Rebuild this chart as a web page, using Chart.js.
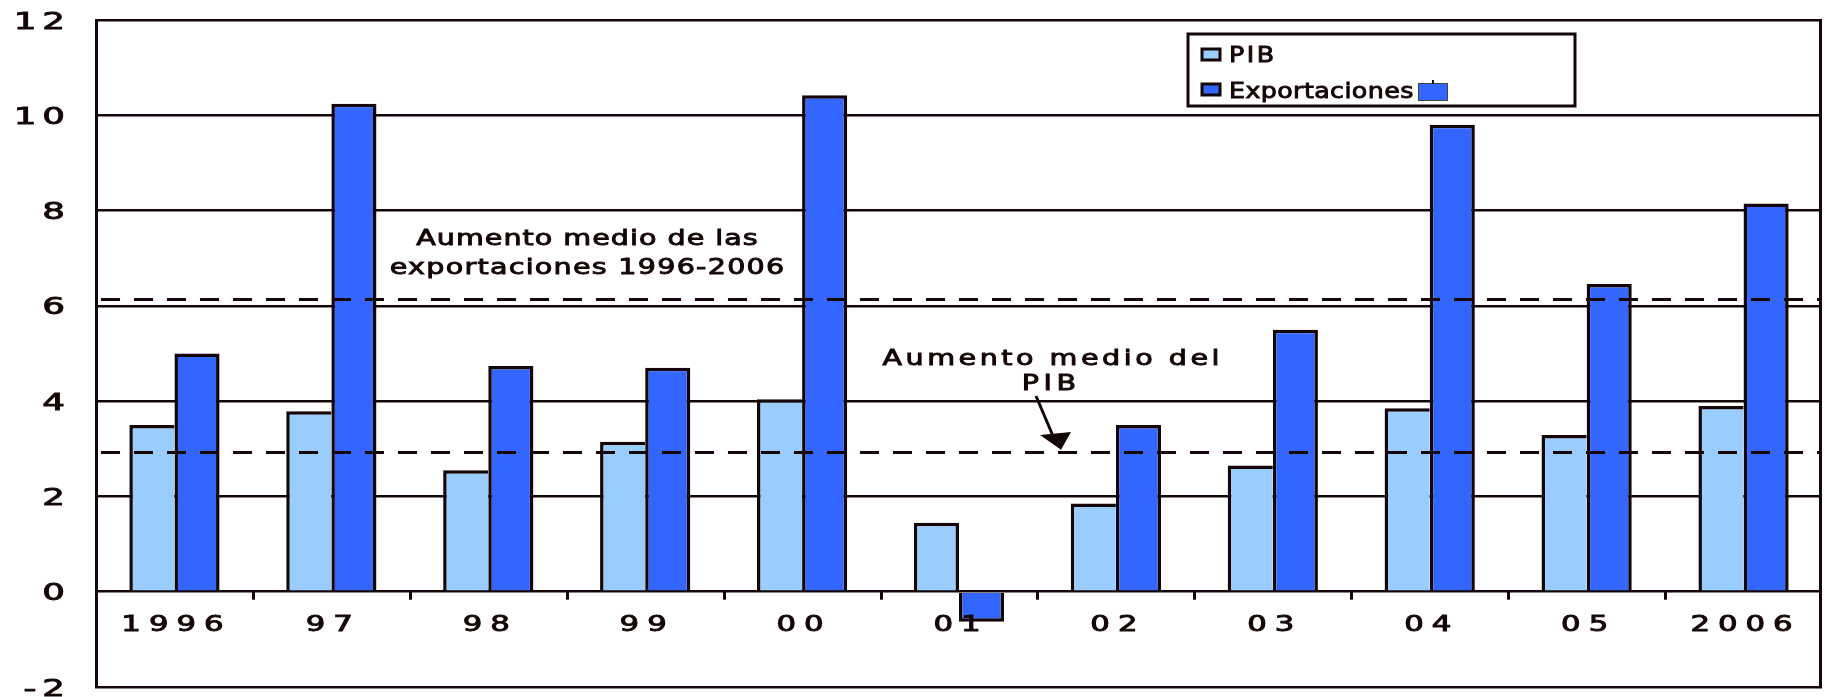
<!DOCTYPE html>
<html>
<head>
<meta charset="utf-8">
<script src="https://cdn.jsdelivr.net/npm/chart.js@4/dist/chart.umd.min.js"></script>
<style>
html,body{margin:0;padding:0;background:#ffffff;}
canvas{display:block;}
</style>
</head>
<body>
<canvas id="c" width="1825" height="697"></canvas>
<script>
// ---- data ----
const categories = ['1996', '97', '98', '99', '00', '01', '02', '03', '04', '05', '2006'];
const pib = [3.50, 3.79, 2.55, 3.15, 4.04, 1.45, 1.85, 2.65, 3.85, 3.29, 3.90];
const exportaciones = [5.00, 10.24, 4.74, 4.70, 10.42, -0.63, 3.50, 5.50, 9.80, 6.46, 8.15];
const seriesNames = ['PIB', 'Exportaciones'];
const yMin = -2, yMax = 12, yStep = 2;
const avgExportaciones = 6.14;
const avgPib = 2.94;
const noteExport = ['Aumento medio de las', 'exportaciones 1996-2006'];
const notePib = ['Aumento medio del', 'PIB'];

// ---- style ----
const INK = '#140606';
const LIGHT = '#99CCFF';
const DARK = '#3366FF';
const FAMILY = '"DejaVu Sans", Verdana, sans-serif';
const BW = 3.5;

function drawText(ctx, str, x, y, size, sx, spacing, align) {
  ctx.save();
  ctx.font = size + 'px ' + FAMILY;
  ctx.letterSpacing = '0px';
  const w0 = ctx.measureText(str).width;
  const ls = spacing / sx;
  const total = (w0 + ls * (str.length - 1)) * sx;
  let left = x;
  if (align === 'center') left = x - total / 2;
  else if (align === 'right') left = x - total;
  ctx.translate(left, y);
  ctx.scale(sx, 1);
  ctx.letterSpacing = ls + 'px';
  ctx.textAlign = 'left';
  ctx.textBaseline = 'alphabetic';
  ctx.fillStyle = INK;
  ctx.strokeStyle = INK;
  ctx.lineWidth = 0.9;
  ctx.lineJoin = 'miter';
  ctx.fillText(str, 0, 0);
  ctx.strokeText(str, 0, 0);
  ctx.restore();
}

const overlay = {
  id: 'overlay',
  beforeDatasetsDraw(chart) {
    const {ctx, scales: {y}} = chart;
    // y tick labels from the scale's own ticks
    y.ticks.forEach(t => {
      drawText(ctx, String(t.value), 65, y.getPixelForValue(t.value) + 8.5, 23, 1.55, 6, 'right');
    });
  },
  afterDatasetsDraw(chart) {
    const {ctx, chartArea: a, scales: {x, y}} = chart;
    ctx.save();
    // right border
    ctx.strokeStyle = INK;
    ctx.lineWidth = 3;
    ctx.beginPath();
    ctx.moveTo(a.right - 1.5, a.top - 1);
    ctx.lineTo(a.right - 1.5, a.bottom + 1);
    ctx.stroke();

    // category boundary ticks below zero line
    const y0 = y.getPixelForValue(0);
    ctx.fillStyle = INK;
    for (let i = 1; i < categories.length; i++) {
      const px = (x.getPixelForValue(i - 1) + x.getPixelForValue(i)) / 2;
      ctx.fillRect(Math.round(px) - 1, y0, 3, 8);
    }

    // dashed average lines
    ctx.setLineDash([19, 14]);
    ctx.lineWidth = 3;
    ctx.strokeStyle = INK;
    [avgExportaciones, avgPib].forEach(v => {
      const py = Math.round(y.getPixelForValue(v)) + 0.5;
      ctx.beginPath();
      ctx.moveTo(a.left + 5, py);
      ctx.lineTo(a.right - 3, py);
      ctx.stroke();
    });
    ctx.setLineDash([]);

    // x category labels (inside plot, just under zero line)
    categories.forEach((c, i) => {
      drawText(ctx, c, x.getPixelForValue(i) - 2, y0 + 39, 20.5, 1.5, 8, 'center');
    });

    // annotations
    drawText(ctx, noteExport[0], 587, 245, 22, 1.3, 1.0, 'center');
    drawText(ctx, noteExport[1], 587, 274, 22, 1.3, 1.25, 'center');
    drawText(ctx, notePib[0], 1051, 365, 22, 1.3, 3.5, 'center');
    drawText(ctx, notePib[1], 1049, 390, 22, 1.3, 4.5, 'center');

    // arrow pointing to PIB average line
    const tipY = y.getPixelForValue(avgPib) - 2;
    ctx.strokeStyle = INK;
    ctx.fillStyle = INK;
    ctx.lineWidth = 3;
    ctx.beginPath();
    ctx.moveTo(1036, 396);
    ctx.lineTo(1053, 436);
    ctx.stroke();
    ctx.beginPath();
    ctx.moveTo(1040, 435);
    ctx.lineTo(1071, 432);
    ctx.lineTo(1061, tipY);
    ctx.closePath();
    ctx.fill();

    ctx.restore();
  },
  afterDraw(chart) {
    const ctx = chart.ctx;
    const ds = chart.data.datasets;
    ctx.save();
    // legend box
    ctx.fillStyle = '#ffffff';
    ctx.fillRect(1188, 34, 387, 72);
    ctx.strokeStyle = INK;
    ctx.lineWidth = 3;
    ctx.strokeRect(1188, 34, 387, 72);
    const rows = [{sy: 49, base: 62}, {sy: 84, base: 98}];
    ds.forEach((d, i) => {
      ctx.fillStyle = d.backgroundColor;
      ctx.fillRect(1202, rows[i].sy, 18, 11);
      ctx.strokeStyle = INK;
      ctx.lineWidth = 3;
      ctx.strokeRect(1202, rows[i].sy, 18, 11);
      drawText(ctx, d.label, 1229, rows[i].base, 22, 1.15, i === 0 ? 2.5 : 0.4, 'left');
    });
    // small stray swatch after the second entry
    ctx.fillStyle = DARK;
    ctx.fillRect(1419, 84, 28, 16);
    ctx.strokeStyle = '#444444';
    ctx.lineWidth = 1;
    ctx.strokeRect(1418.5, 83.5, 29, 17);
    ctx.fillStyle = INK;
    ctx.fillRect(1432, 80, 2, 4);
    ctx.restore();
  }
};

new Chart(document.getElementById('c'), {
  type: 'bar',
  data: {
    labels: categories,
    datasets: [
      {
        label: seriesNames[0],
        data: pib,
        backgroundColor: LIGHT,
        borderColor: INK,
        borderWidth: (c) => ({
          top: BW, left: BW, bottom: 0,
          right: (exportaciones[c.dataIndex] >= pib[c.dataIndex]) ? 0 : BW
        }),
        borderSkipped: false,
        categoryPercentage: 0.575,
        barPercentage: 1.0
      },
      {
        label: seriesNames[1],
        data: exportaciones,
        backgroundColor: DARK,
        borderColor: INK,
        borderWidth: BW,
        categoryPercentage: 0.575,
        barPercentage: 1.0
      }
    ]
  },
  options: {
    responsive: false,
    animation: false,
    devicePixelRatio: 1,
    layout: {padding: {left: 0, right: 3, top: 20, bottom: 10}},
    plugins: {
      legend: {display: false},
      tooltip: {enabled: false}
    },
    scales: {
      x: {display: false},
      y: {
        min: yMin,
        max: yMax,
        ticks: {display: false, stepSize: yStep},
        grid: {color: INK, lineWidth: 2.5, drawTicks: false},
        border: {display: true, color: INK, width: 3},
        afterFit(scale) { scale.width = 96; }
      }
    }
  },
  plugins: [overlay]
});
</script>
</body>
</html>
